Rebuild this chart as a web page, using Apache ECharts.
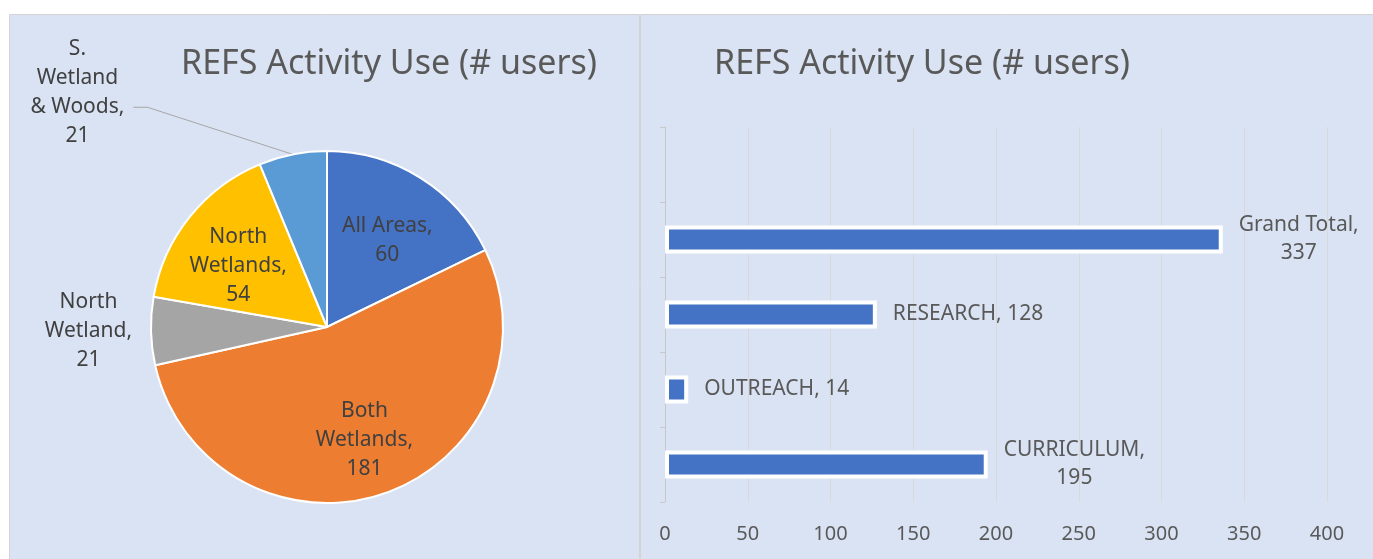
<!DOCTYPE html>
<html>
<head>
<meta charset="utf-8">
<script src="https://cdn.jsdelivr.net/npm/echarts@6/dist/echarts.min.js"></script>
<style>
html, body { margin: 0; padding: 0; background: #fff; }
#main { width: 1373px; height: 559px; }
</style>
</head>
<body>
<div id="main"></div>
<script>
// data
var chartTitle = "REFS Activity Use (# users)";

var pieNames = ["All Areas", "Both Wetlands", "North Wetland", "North Wetlands", "S. Wetland & Woods"];
var pieLabelNames = ["All Areas", "Both\nWetlands", "North\nWetland", "North\nWetlands", "S.\nWetland\n& Woods"];
var pieValues = [60, 181, 21, 54, 21];
var pieColors = ["#4472c4", "#ed7d31", "#a5a5a5", "#ffc000", "#5b9bd5"];
var pieLabelPos = ["inside", "inside", "outside", "inside", "outside"];

var barCategories = ["CURRICULUM", "OUTREACH", "RESEARCH", "Grand Total", ""];
var barValues = [195, 14, 128, 337, null];
var barLabelWrap = [true, false, false, true, false];
var xTicks = { min: 0, max: 400, interval: 50 };

var pieCenter = [327, 327];
var textColor = "#595959";

function centered(str) {
  return str.split("\n").map(function (s) { return "{c|" + s + "}"; }).join("\n");
}

var pieData = pieNames.map(function (n, i) {
  var item = {
    name: n,
    value: pieValues[i],
    itemStyle: { color: pieColors[i] },
    label: { position: pieLabelPos[i] }
  };
  // north wetland: label next to slice, no leader
  if (i === 2) {
    item.labelLine = { show: false, length: 4, length2: 10 };
  }
  // s. wetland & woods: leader line up to the corner
  if (i === 4) {
    item.labelLine = { show: true, length: 48, length2: 150 };
  }
  return item;
});

var myChart = echarts.init(document.getElementById("main"));

var option = {
  animation: false,
  textStyle: { fontFamily: "Noto Sans" },
  graphic: [
    {
      type: "rect", z: -10, silent: true,
      shape: { x: 9.5, y: 14.5, width: 630, height: 560 },
      style: { fill: "#dae3f3", stroke: "#d4d4d4", lineWidth: 1 }
    },
    {
      type: "rect", z: -10, silent: true,
      shape: { x: 640.5, y: 14.5, width: 740, height: 560 },
      style: { fill: "#dae3f3", stroke: "#d4d4d4", lineWidth: 1 }
    }
  ],
  title: [
    {
      text: chartTitle, left: 384, top: 42, textAlign: "center",
      textStyle: { color: textColor, fontSize: 34, fontWeight: "normal" }
    },
    {
      text: chartTitle, left: 917, top: 42, textAlign: "center",
      textStyle: { color: textColor, fontSize: 34, fontWeight: "normal" }
    }
  ],
  grid: { left: 665, right: 46, top: 127, bottom: 57 },
  xAxis: {
    type: "value",
    min: xTicks.min,
    max: xTicks.max,
    interval: xTicks.interval,
    axisLine: { show: false },
    axisTick: { show: false },
    splitLine: { lineStyle: { color: "#d9d9d9" } },
    axisLabel: { color: textColor, fontSize: 20, margin: 22 }
  },
  yAxis: {
    type: "category",
    data: barCategories,
    axisLine: { lineStyle: { color: "#c8c8c8" } },
    axisTick: { show: true, length: 5, lineStyle: { color: "#c8c8c8" } },
    axisLabel: { show: false }
  },
  series: [
    {
      type: "pie",
      center: pieCenter,
      radius: 176,
      startAngle: 90,
      clockwise: true,
      avoidLabelOverlap: false,
      data: pieData,
      itemStyle: { borderColor: "#fff", borderWidth: 2 },
      labelLine: { lineStyle: { color: "#a6a6a6", width: 1 }, smooth: false },
      label: {
        color: "#404040",
        fontSize: 21,
        formatter: function (p) {
          return centered(pieLabelNames[p.dataIndex] + ",\n" + p.value);
        },
        rich: { c: { align: "center", fontSize: 21, lineHeight: 29, color: "#404040" } }
      },
      labelLayout: function (p) {
        if (pieLabelPos[p.dataIndex] === "inside") {
          var lx = p.labelRect.x + p.labelRect.width / 2;
          var ly = p.labelRect.y + p.labelRect.height / 2;
          return { dx: (lx - pieCenter[0]) * 0.25, dy: (ly - pieCenter[1]) * 0.22 + 8 };
        }
        var pts = p.labelLinePoints;
        if (p.dataIndex === 4 && pts) {
          return {
            dx: -4,
            dy: -15,
            labelLinePoints: [pts[0], [pts[2][0] + 14, pts[2][1]], pts[2]]
          };
        }
      }
    },
    {
      type: "bar",
      data: barValues,
      barWidth: 28,
      itemStyle: { color: "#4472c4", borderColor: "#fff", borderWidth: 4 },
      label: {
        show: true,
        position: "right",
        distance: 16,
        color: textColor,
        fontSize: 21,
        formatter: function (p) {
          var sep = barLabelWrap[p.dataIndex] ? ",\n" : ", ";
          return centered(p.name + sep + p.value);
        },
        rich: { c: { align: "center", fontSize: 21, lineHeight: 28, color: textColor } }
      }
    }
  ]
};

myChart.setOption(option);
</script>
</body>
</html>
